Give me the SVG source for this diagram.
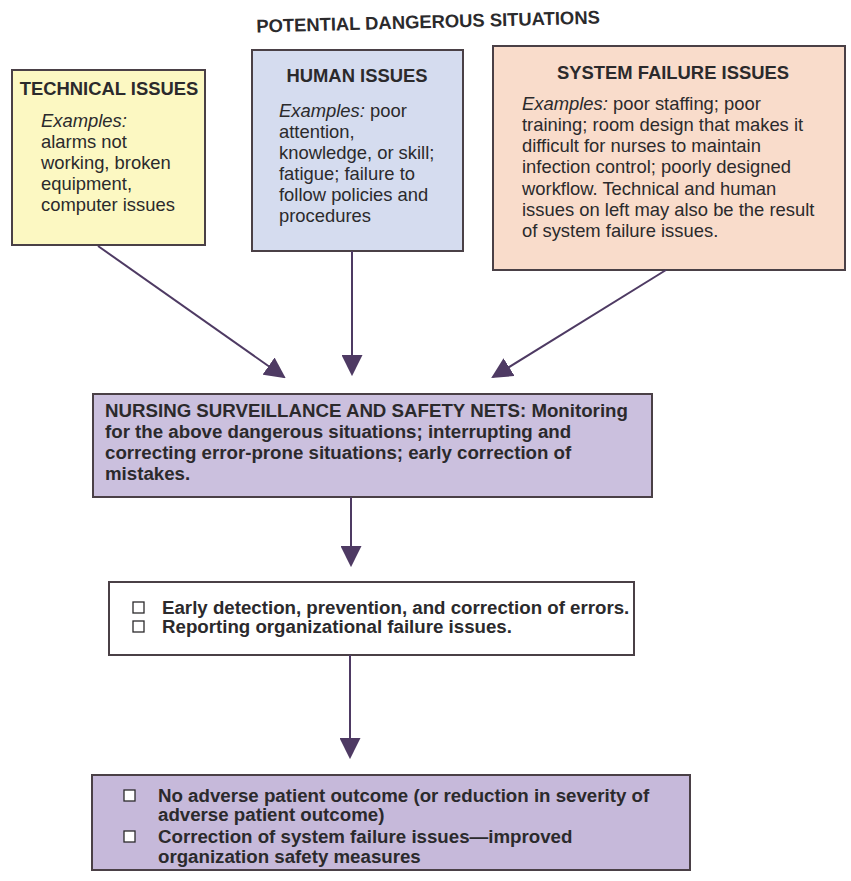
<svg xmlns="http://www.w3.org/2000/svg" width="851" height="881" viewBox="0 0 851 881">
<defs>
<style>
text{font-family:"Liberation Sans",Arial,sans-serif;fill:#2b2a2c;}
.t{font-size:18.4px;}
.h{font-size:18.4px;font-weight:bold;}
.b{font-size:18.7px;font-weight:bold;}
.box{stroke:#4a4046;stroke-width:2;}
.con{stroke:#4e3a63;stroke-width:2;fill:none;}
.chk{fill:#fff;stroke:#2b2a2c;stroke-width:1.3;}
</style>
<marker id="ahb" viewBox="0 0 10 10" refX="9" refY="5" markerWidth="10.5" markerHeight="10.5" orient="auto">
<path d="M0,0 L10,5 L0,10 Z" fill="#4e3a63"/>
</marker>
</defs>
<rect width="851" height="881" fill="#ffffff"/>
<text x="428" y="28" class="h" text-anchor="middle" transform="rotate(-1.5 428 22)">POTENTIAL DANGEROUS SITUATIONS</text>

<g id="technical">
<rect x="12" y="70" width="193" height="175" fill="#fcf8c2" class="box"/>
<text x="109" y="95" class="h" text-anchor="middle">TECHNICAL ISSUES</text>
<text x="41" y="127" class="t"><tspan font-style="italic">Examples:</tspan></text>
<text x="41" y="148" class="t">alarms not</text>
<text x="41" y="169" class="t">working, broken</text>
<text x="41" y="190" class="t">equipment,</text>
<text x="41" y="211" class="t">computer issues</text>
</g>

<g id="human">
<rect x="252" y="50" width="211" height="201" fill="#d5dcef" class="box"/>
<text x="357" y="82" class="h" text-anchor="middle">HUMAN ISSUES</text>
<text x="279" y="117" class="t"><tspan font-style="italic">Examples:</tspan> poor</text>
<text x="279" y="138" class="t">attention,</text>
<text x="279" y="159" class="t">knowledge, or skill;</text>
<text x="279" y="180" class="t">fatigue; failure to</text>
<text x="279" y="201" class="t">follow policies and</text>
<text x="279" y="222" class="t">procedures</text>
</g>

<g id="system">
<rect x="493" y="46" width="352" height="224" fill="#f9dccb" class="box"/>
<text x="673" y="79" class="h" text-anchor="middle">SYSTEM FAILURE ISSUES</text>
<text x="522" y="110" class="t"><tspan font-style="italic">Examples:</tspan> poor staffing; poor</text>
<text x="522" y="131" class="t">training; room design that makes it</text>
<text x="522" y="152" class="t">difficult for nurses to maintain</text>
<text x="522" y="173" class="t">infection control; poorly designed</text>
<text x="522" y="195" class="t">workflow. Technical and human</text>
<text x="522" y="216" class="t">issues on left may also be the result</text>
<text x="522" y="237" class="t">of system failure issues.</text>
</g>

<g id="surveillance">
<rect x="93" y="394" width="559" height="103" fill="#cbc0de" class="box"/>
<text x="105" y="417" class="b">NURSING SURVEILLANCE AND SAFETY NETS: Monitoring</text>
<text x="105" y="438" class="b">for the above dangerous situations; interrupting and</text>
<text x="105" y="459" class="b">correcting error-prone situations; early correction of</text>
<text x="105" y="480" class="b">mistakes.</text>
</g>

<g id="detection">
<rect x="109" y="582" width="525" height="73" fill="#ffffff" class="box"/>
<rect x="133" y="602" width="11" height="11" class="chk"/>
<text x="162" y="614" class="b">Early detection, prevention, and correction of errors.</text>
<rect x="133" y="621" width="11" height="11" class="chk"/>
<text x="162" y="633" class="b">Reporting organizational failure issues.</text>
</g>

<g id="outcome">
<rect x="92" y="775" width="598" height="95" fill="#c6b9da" class="box"/>
<rect x="124" y="790" width="11" height="11" class="chk"/>
<text x="158" y="802" class="b">No adverse patient outcome (or reduction in severity of</text>
<text x="158" y="821" class="b">adverse patient outcome)</text>
<rect x="124" y="831" width="11" height="11" class="chk"/>
<text x="158" y="843" class="b">Correction of system failure issues—improved</text>
<text x="158" y="863" class="b">organization safety measures</text>
</g>

<g id="connectors">
<line x1="98" y1="246" x2="284" y2="377" class="con" marker-end="url(#ahb)"/>
<line x1="352" y1="251" x2="352" y2="374" class="con" marker-end="url(#ahb)"/>
<line x1="666" y1="270" x2="493" y2="377" class="con" marker-end="url(#ahb)"/>
<line x1="351" y1="497" x2="351" y2="565" class="con" marker-end="url(#ahb)"/>
<line x1="350" y1="655" x2="350" y2="757" class="con" marker-end="url(#ahb)"/>
</g>
</svg>
